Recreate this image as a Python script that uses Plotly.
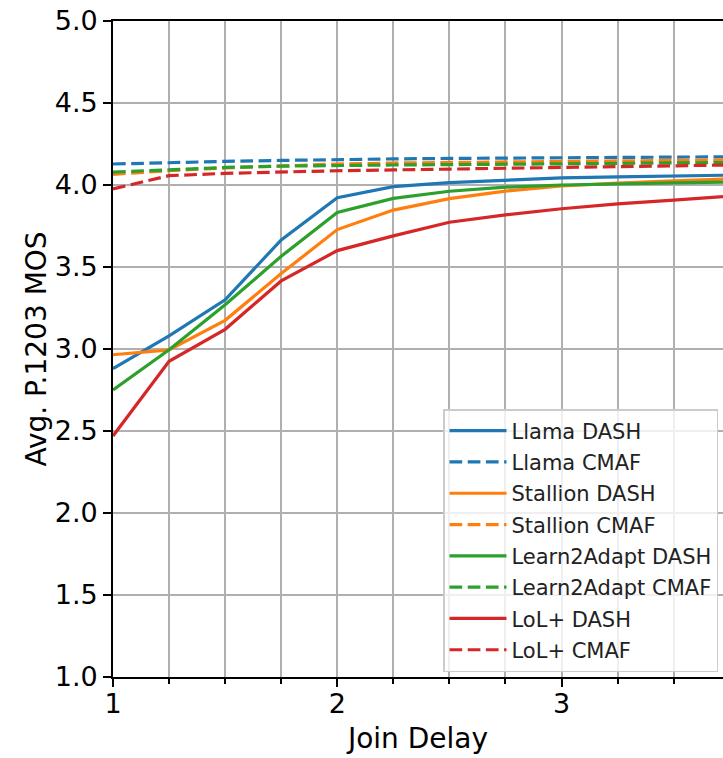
import plotly.graph_objects as go

join_delay = [1, 1.25, 1.5, 1.75, 2, 2.25, 2.5, 2.75, 3, 3.25, 3.5, 3.75]

llama_dash = [2.88, 3.08, 3.30, 3.665, 3.922, 3.99, 4.015, 4.03, 4.043, 4.05, 4.055, 4.06]
llama_cmaf = [4.128, 4.138, 4.144, 4.15, 4.156, 4.159, 4.162, 4.164, 4.167, 4.169, 4.171, 4.172]
stallion_dash = [2.965, 2.995, 3.175, 3.46, 3.728, 3.847, 3.917, 3.963, 3.994, 4.012, 4.025, 4.037]
stallion_cmaf = [4.065, 4.087, 4.104, 4.118, 4.128, 4.134, 4.138, 4.141, 4.146, 4.149, 4.151, 4.153]
l2a_dash = [2.75, 2.995, 3.27, 3.565, 3.833, 3.918, 3.962, 3.987, 4.0, 4.008, 4.013, 4.018]
l2a_cmaf = [4.079, 4.093, 4.107, 4.115, 4.12, 4.122, 4.124, 4.126, 4.131, 4.134, 4.136, 4.137]
lol_dash = [2.47, 2.925, 3.12, 3.415, 3.60, 3.69, 3.773, 3.818, 3.855, 3.885, 3.908, 3.932]
lol_cmaf = [3.976, 4.057, 4.071, 4.08, 4.087, 4.092, 4.097, 4.102, 4.11, 4.115, 4.119, 4.122]

series = [
    ("Llama DASH", llama_dash, "#1f77b4", "solid"),
    ("Llama CMAF", llama_cmaf, "#1f77b4", "dash"),
    ("Stallion DASH", stallion_dash, "#ff7f0e", "solid"),
    ("Stallion CMAF", stallion_cmaf, "#ff7f0e", "dash"),
    ("Learn2Adapt DASH", l2a_dash, "#2ca02c", "solid"),
    ("Learn2Adapt CMAF", l2a_cmaf, "#2ca02c", "dash"),
    ("LoL+ DASH", lol_dash, "#d62728", "solid"),
    ("LoL+ CMAF", lol_cmaf, "#d62728", "dash"),
]

FONT = "DejaVu Sans"
fig = go.Figure()
for i, (name, ys, color, style) in enumerate(series):
    fig.add_trace(go.Scatter(
        x=join_delay, y=ys, name=name, mode="lines",
        legendgroup=f"g{i}",
        line=dict(color=color, width=3.2,
                  dash="solid" if style == "solid" else "12.7px,5.5px"),
    ))

fig.update_layout(
    width=723, height=758,
    margin=dict(l=113, r=0, t=21, b=81, pad=0),
    paper_bgcolor="white", plot_bgcolor="white",
    font=dict(family=FONT, color="black", size=27),
    showlegend=True,
    legend=dict(
        x=(443 - 113) / 610, y=(677 - 409) / 656, xanchor="left", yanchor="top",
        bgcolor="rgba(255,255,255,0.8)", bordercolor="#cccccc", borderwidth=1.5,
        font=dict(family=FONT, size=21, color="#222222"),
        tracegroupgap=1, itemwidth=57,
    ),
    xaxis=dict(
        range=[1, 3.72], tickvals=[1, 2, 3], ticktext=["1", "2", "3"],
        automargin=False,
        showgrid=True, gridcolor="#b0b0b0", gridwidth=1.8,
        showline=True, linecolor="black", linewidth=1.8, mirror=True,
        ticks="outside", ticklen=8, tickwidth=1.8, tickcolor="black",
        tickfont=dict(size=27), ticklabelstandoff=-6,
        minor=dict(dtick=0.25, tick0=1, showgrid=True, gridcolor="#b0b0b0", gridwidth=1.8,
                   ticks="outside", ticklen=5, tickwidth=1.5, tickcolor="black"),
        zeroline=False,
        title=dict(text="Join Delay", font=dict(size=28), standoff=10),
    ),
    yaxis=dict(
        range=[1, 5], tickvals=[1, 1.5, 2, 2.5, 3, 3.5, 4, 4.5, 5],
        tickformat=".1f", automargin=False, ticklabeloverflow="allow",
        showgrid=True, gridcolor="#b0b0b0", gridwidth=1.8,
        showline=True, linecolor="black", linewidth=1.8,
        ticks="outside", ticklen=8, tickwidth=1.8, tickcolor="black",
        tickfont=dict(size=27), ticklabelstandoff=0,
        zeroline=False,
        title=dict(text="Avg. P.1203 MOS", font=dict(size=28), standoff=0),
    ),
)

# remove the browser's default page margin so the figure sits at the window origin
fig.write_html("out.html", config={"displayModeBar": False},
               post_script="document.body.style.margin='0';")
